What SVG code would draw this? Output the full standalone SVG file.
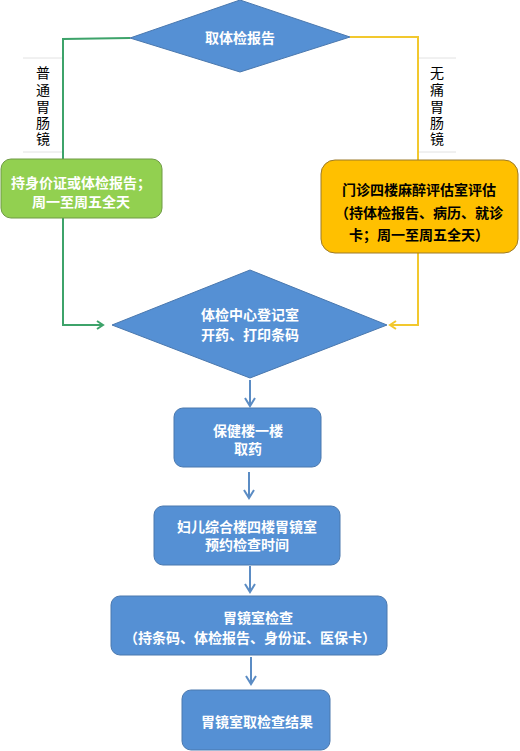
<svg xmlns="http://www.w3.org/2000/svg" width="520" height="751" viewBox="0 0 520 751">
<style>
.t{font-family:"Liberation Sans","Noto Sans CJK SC",sans-serif;font-size:14px;font-weight:bold;text-anchor:middle;fill:#fff}
.tb{fill:#000}
.v{font-family:"Liberation Sans","Noto Sans CJK SC",sans-serif;font-size:14px;text-anchor:middle;fill:#000}
.blue{fill:#5590D4;stroke:#4A78AE;stroke-width:1}
.ln{fill:none;stroke-width:2}
.sep{stroke:#e2e2e2;stroke-width:1}
</style>
<defs>
<marker id="ag" markerWidth="10" markerHeight="10" refX="8" refY="5" orient="auto" markerUnits="userSpaceOnUse"><polyline points="2,1 8,5 2,9" fill="none" stroke="#3DA36A" stroke-width="2"/></marker>
<marker id="ay" markerWidth="10" markerHeight="10" refX="8" refY="5" orient="auto" markerUnits="userSpaceOnUse"><polyline points="2,1 8,5 2,9" fill="none" stroke="#F2C82E" stroke-width="2"/></marker>
<marker id="ab" markerWidth="12" markerHeight="12" refX="10" refY="6" orient="auto" markerUnits="userSpaceOnUse"><polyline points="2,1 10,6 2,11" fill="none" stroke="#5B8CC4" stroke-width="2"/></marker>
</defs>
<rect width="520" height="751" fill="#fff"/>
<g id="connectors">
<polyline class="ln" stroke="#3DA36A" points="130,38 63,39 63,325 103,325" marker-end="url(#ag)"/>
<polyline class="ln" stroke="#F2C82E" points="350,37 418,37 418,325 390,325" marker-end="url(#ay)"/>
<line class="ln" stroke="#5B8CC4" x1="250" y1="380" x2="250" y2="406" marker-end="url(#ab)"/>
<line class="ln" stroke="#5B8CC4" x1="249" y1="472" x2="249" y2="498" marker-end="url(#ab)"/>
<line class="ln" stroke="#5B8CC4" x1="250" y1="566" x2="250" y2="592" marker-end="url(#ab)"/>
<line class="ln" stroke="#5B8CC4" x1="251" y1="657" x2="251" y2="684" marker-end="url(#ab)"/>
</g>
<g id="label-left">
<line class="sep" x1="23" y1="58" x2="62" y2="58"/>
<line class="sep" x1="23" y1="152" x2="62" y2="152"/>
<text class="v" x="43" y="78">普</text>
<text class="v" x="43" y="95">通</text>
<text class="v" x="43" y="112">胃</text>
<text class="v" x="43" y="128">肠</text>
<text class="v" x="43" y="144">镜</text>
</g>
<g id="label-right">
<line class="sep" x1="419" y1="58" x2="456" y2="58"/>
<line class="sep" x1="419" y1="152" x2="456" y2="152"/>
<text class="v" x="437" y="78">无</text>
<text class="v" x="437" y="95">痛</text>
<text class="v" x="437" y="112">胃</text>
<text class="v" x="437" y="128">肠</text>
<text class="v" x="437" y="144">镜</text>
</g>
<g id="n-start">
<polygon class="blue" points="240,0 350,37 240,72 130,38"/>
<text class="t" x="240" y="43">取体检报告</text>
</g>
<g id="n-green">
<rect x="1" y="159" width="161" height="59" rx="10" fill="#92D050" stroke="#6F9A45" stroke-width="1"/>
<text class="t" x="81" y="188">持身价证或体检报告；</text>
<text class="t" x="81" y="207">周一至周五全天</text>
</g>
<g id="n-yellow">
<rect x="321" y="160" width="197" height="93" rx="14" fill="#FFC000" stroke="#9C7A2A" stroke-width="1"/>
<text class="t tb" x="419" y="195">门诊四楼麻醉评估室评估</text>
<text class="t tb" x="419" y="218">（持体检报告、病历、就诊</text>
<text class="t tb" x="419" y="240">卡；周一至周五全天）</text>
</g>
<g id="n-register">
<polygon class="blue" points="250,270 387,325 250,378 112,325"/>
<text class="t" x="250" y="320">体检中心登记室</text>
<text class="t" x="250" y="340">开药、打印条码</text>
</g>
<g id="n-medicine">
<rect class="blue" x="174" y="408" width="147" height="59" rx="9"/>
<text class="t" x="248" y="436">保健楼一楼</text>
<text class="t" x="248" y="454">取药</text>
</g>
<g id="n-appointment">
<rect class="blue" x="154" y="506" width="186" height="59" rx="9"/>
<text class="t" x="247" y="532">妇儿综合楼四楼胃镜室</text>
<text class="t" x="247" y="550">预约检查时间</text>
</g>
<g id="n-exam">
<rect class="blue" x="111" y="596" width="276" height="59" rx="9"/>
<text class="t" x="258" y="623">胃镜室检查</text>
<text class="t" x="250" y="643">（持条码、体检报告、身份证、医保卡）</text>
</g>
<g id="n-result">
<rect class="blue" x="182" y="690" width="148" height="60" rx="9"/>
<text class="t" x="257" y="727">胃镜室取检查结果</text>
</g>
</svg>
